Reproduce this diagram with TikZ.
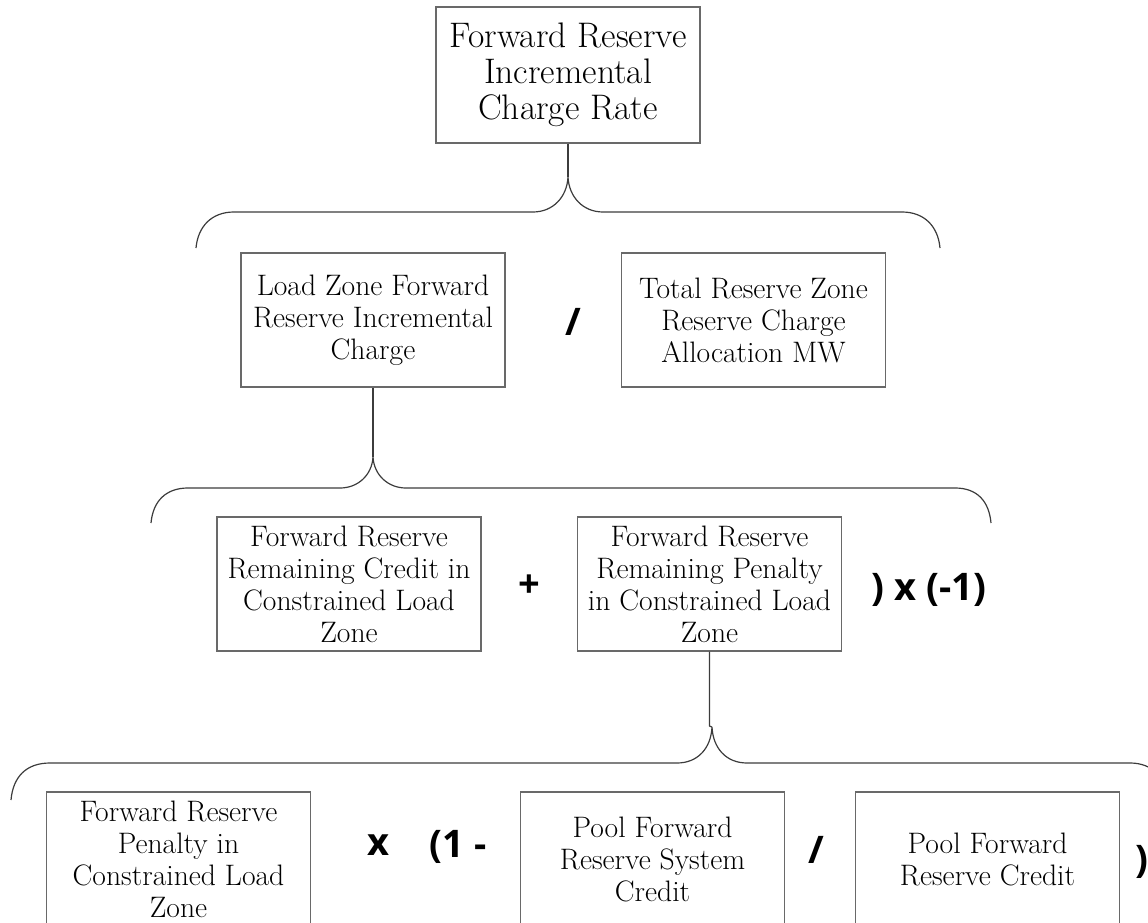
\documentclass[tikz,border=0pt]{standalone}
\usepackage{fontspec}
\newfontfamily\opfont{Open Sans}
\definecolor{boxgray}{RGB}{105,105,105}
\definecolor{bracegray}{RGB}{60,60,60}
\begin{document}
\begin{tikzpicture}[x=1pt,y=-1pt,
  box/.style={draw=boxgray, line width=1.4pt, minimum width=264pt, minimum height=134pt,
    inner sep=0pt, align=center, font=\fontsize{29.6}{32}\selectfont},
  topbox/.style={box, minimum height=136pt, font=\fontsize{35.5}{36}\selectfont},
  op/.style={inner sep=0pt, font=\opfont\bfseries\fontsize{38}{40}\selectfont},
  brace/.style={draw=bracegray, line width=1.2pt},
  stem/.style={draw=bracegray, line width=1.2pt}]
\useasboundingbox (0,0) rectangle (1148,923);

% nodes
\node[topbox] (top) at (568,75) {Forward Reserve\\Incremental\\Charge Rate};
\node[box] (A) at (373,320) {Load Zone Forward\\Reserve Incremental\\Charge};
\node[box] (B) at (753.5,320) {Total Reserve Zone\\Reserve Charge\\Allocation MW};
\node[op] (div1) at (573,322) {/};
\node[box] (C) at (349,584) {Forward Reserve\\Remaining Credit in\\Constrained Load\\Zone};
\node[box] (D) at (709.5,584) {Forward Reserve\\Remaining Penalty\\in Constrained Load\\Zone};
\node[op] (plus) at (529,586) {+};
\node[op] (neg) at (929,590) {) x (-1)};
\node[box] (E) at (178.5,859) {Forward Reserve\\Penalty in\\Constrained Load\\Zone};
\node[box] (F) at (652.5,859) {Pool Forward\\Reserve System\\Credit};
\node[box] (G) at (987.5,859) {Pool Forward\\Reserve Credit};
\node[op] (times) at (378,845) {x};
\node[op] (open) at (458,847) {(1 -};
\node[op] (div2) at (816,850) {/};
\node[op] (close) at (1142,862) {)};

% brace coordinates
\coordinate (t1) at (568,177);
\coordinate (b1l) at (196,248);
\coordinate (b1r) at (940,248);
\coordinate (t2) at (373,457);
\coordinate (b2l) at (151,523);
\coordinate (b2r) at (991,523);
\coordinate (t3) at (712,727);
\coordinate (b3l) at (11,800);
\coordinate (b3r) at (1168,800);

% stems
\draw[stem] (top.south) -- (t1);
\draw[stem] (A.south) -- (t2);
\draw[stem] (D.south) -- (709.5,726) -- (t3);

% braces
\draw[brace] (b1l) .. controls (198,226) and (212,212) .. (234,212) -- (533,212)
  .. controls (553,212) and (567,197) .. (t1)
  .. controls (569,197) and (583,212) .. (603,212) -- (902,212)
  .. controls (924,212) and (938,226) .. (b1r);
\draw[brace] (b2l) .. controls (153,501) and (166,488) .. (188,488) -- (340,488)
  .. controls (358,488) and (372,475) .. (t2)
  .. controls (374,475) and (388,488) .. (406,488) -- (955,488)
  .. controls (977,488) and (989,501) .. (b2r);
\draw[brace] (b3l) .. controls (13,777) and (26,763) .. (50,763) -- (677,763)
  .. controls (698,763) and (711,748) .. (t3)
  .. controls (713,748) and (726,763) .. (747,763) -- (1130,763)
  .. controls (1152,763) and (1166,777) .. (b3r);
\end{tikzpicture}
\end{document}
